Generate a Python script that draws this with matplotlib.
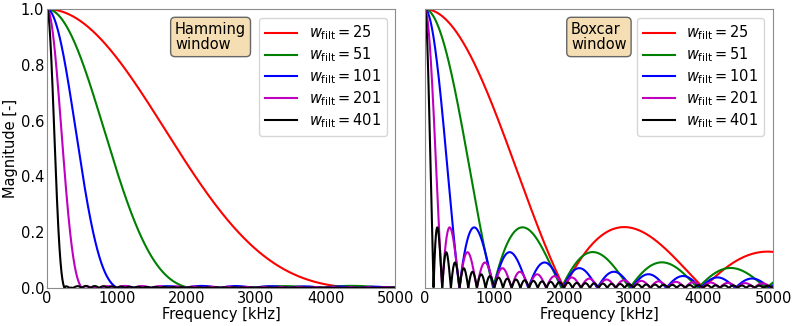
import numpy as np
import matplotlib
matplotlib.use("Agg")
import matplotlib.pyplot as plt

plt.rcParams['font.size'] = 10.5

# Data
filter_widths = [25, 51, 101, 201, 401]
line_colors = ['r', 'g', 'b', 'm', 'k']
sample_rate_khz = 50000.0
window_names = ['Hamming\nwindow', 'Boxcar\nwindow']
freq_khz = np.linspace(0, 5000, 4001)
x_ticks = [0, 1000, 2000, 3000, 4000, 5000]
y_ticks = [0.0, 0.2, 0.4, 0.6, 0.8, 1.0]


def response(win, f):
    n = np.arange(len(win))
    ph = np.exp(-2j * np.pi * np.outer(f / sample_rate_khz, n))
    return np.abs(ph @ win) / win.sum()


fig, axes = plt.subplots(1, 2, figsize=(7.97, 3.26), dpi=100, sharey=True)
fig.subplots_adjust(left=0.059, right=0.970, bottom=0.1166, top=0.972, wspace=0.085)

for ax, name in zip(axes, window_names):
    for w, c in zip(filter_widths, line_colors):
        win = np.hamming(w) if name.startswith('Hamming') else np.ones(w)
        ax.plot(freq_khz, response(win, freq_khz), color=c,
                label=r'$w_{\mathrm{filt}} = %d$' % w)
    ax.set_xlim(0, 5000)
    ax.set_ylim(0, 1)
    ax.set_xticks(x_ticks)
    ax.set_yticks(y_ticks)
    ax.set_xlabel('Frequency [kHz]', labelpad=1)
    ax.tick_params(length=0, pad=2)
    for s in ax.spines.values():
        s.set_color('0.55')
    ax.legend(loc='upper right', fontsize=10.5, handlelength=2.2,
              labelspacing=0.22, borderaxespad=0.6)
    ax.text(0.3675 if name.startswith('Hamming') else 0.42, 0.955, name,
            transform=ax.transAxes, ha='left', va='top', fontsize=10.5,
            linespacing=1.05,
            bbox=dict(boxstyle='round,pad=0.3', facecolor='wheat', edgecolor='0.4', alpha=1.0))

axes[0].set_ylabel('Magnitude [-]', labelpad=2)
axes[1].tick_params(labelleft=False)

fig.savefig('out.png', dpi=100)
